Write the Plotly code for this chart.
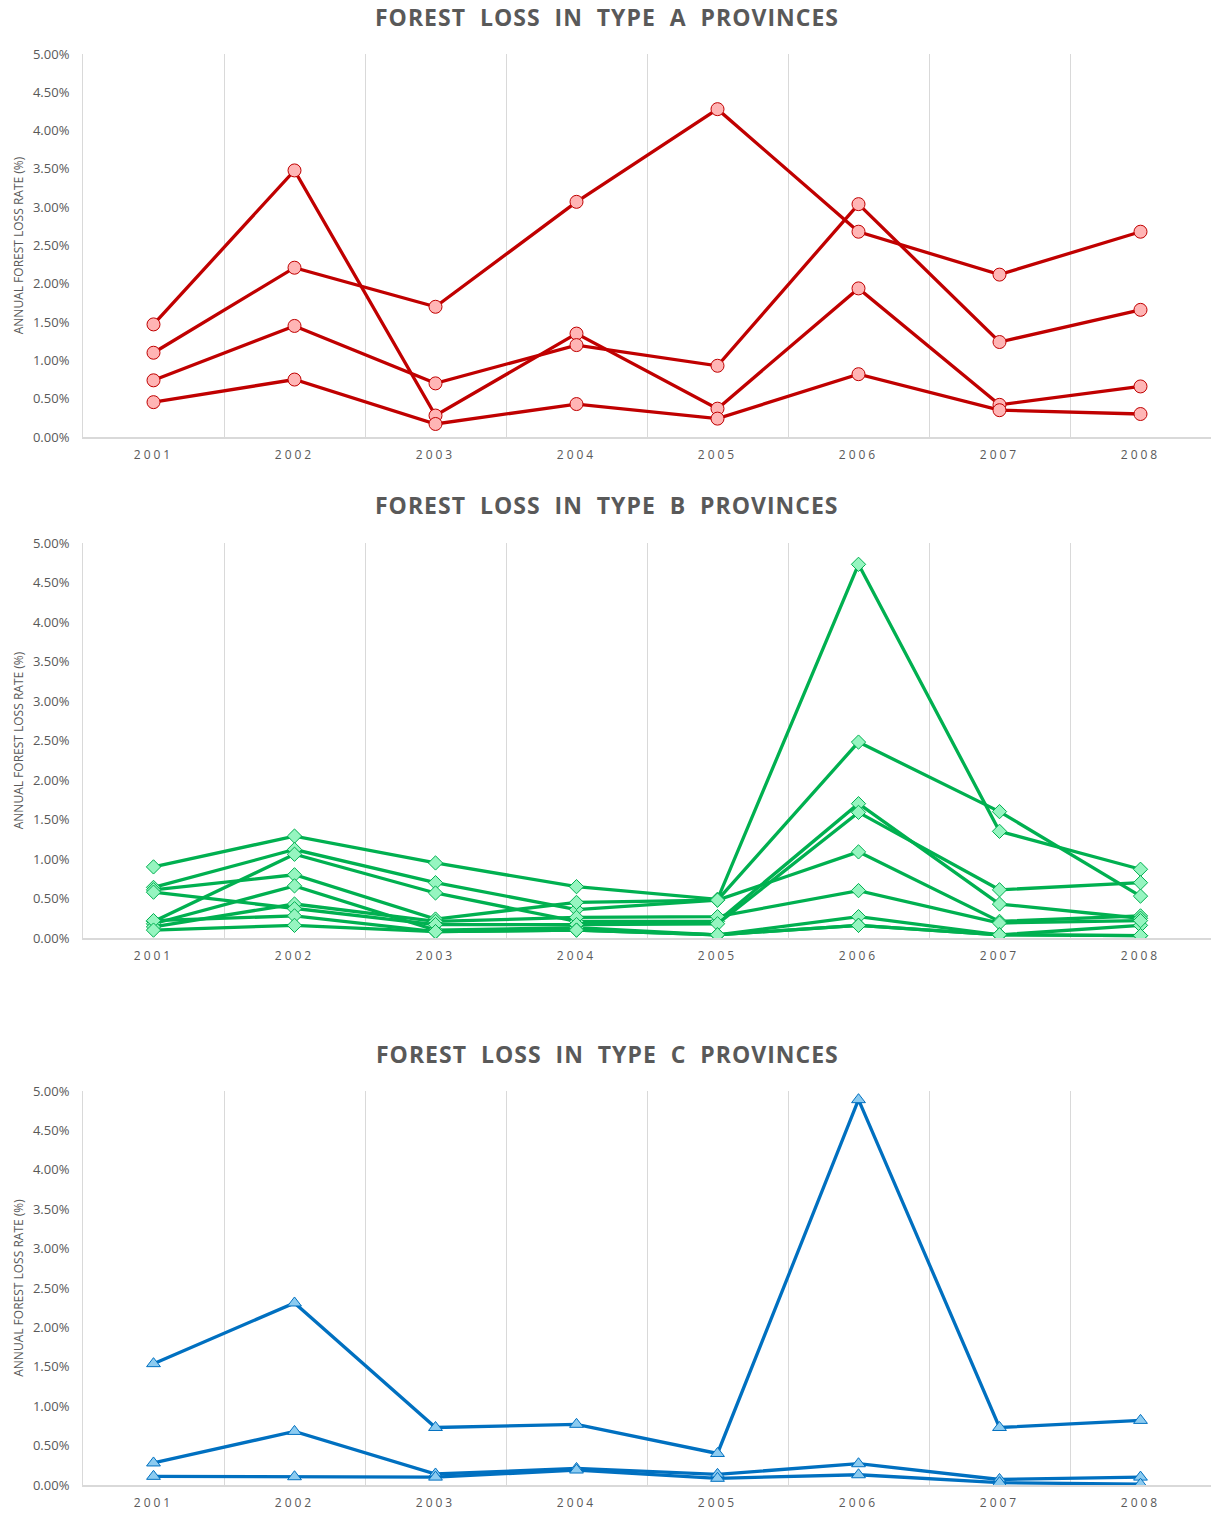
import plotly.graph_objects as go

# ---------------- data (annual forest loss rate, %) ----------------
years = ["2001", "2002", "2003", "2004", "2005", "2006", "2007", "2008"]

type_a_series = [
    [1.47, 3.48, 0.28, 1.35, 0.37, 1.94, 0.42, 0.66],
    [1.10, 2.21, 1.70, 3.07, 4.28, 2.68, 2.12, 2.68],
    [0.74, 1.45, 0.70, 1.20, 0.93, 3.04, 1.24, 1.66],
    [0.455, 0.75, 0.17, 0.43, 0.24, 0.82, 0.35, 0.30],
]

type_b_series = [
    [0.90, 1.29, 0.95, 0.65, 0.49, 4.73, 1.35, 0.87],
    [0.64, 1.12, 0.70, 0.36, 0.48, 1.09, 0.21, 0.28],
    [0.21, 1.06, 0.57, 0.21, 0.21, 1.70, 0.43, 0.25],
    [0.61, 0.80, 0.24, 0.45, 0.48, 2.48, 1.60, 0.53],
    [0.18, 0.66, 0.10, 0.13, 0.04, 0.27, 0.04, 0.16],
    [0.14, 0.43, 0.21, 0.26, 0.27, 0.60, 0.19, 0.22],
    [0.58, 0.37, 0.17, 0.17, 0.18, 1.59, 0.61, 0.70],
    [0.22, 0.28, 0.08, 0.10, 0.04, 0.16, 0.04, 0.03],
    [0.10, 0.16, 0.08, 0.10, 0.04, 0.16, 0.04, 0.03],
]

type_c_series = [
    [1.54, 2.31, 0.73, 0.77, 0.40, 4.89, 0.73, 0.82],
    [0.28, 0.68, 0.14, 0.21, 0.135, 0.27, 0.07, 0.10],
    [0.11, 0.105, 0.10, 0.19, 0.085, 0.13, 0.03, 0.01],
]

y_tick_values = [0.0, 0.005, 0.01, 0.015, 0.02, 0.025, 0.03, 0.035, 0.04, 0.045, 0.05]

titles = [
    "FOREST  LOSS  IN  TYPE  A  PROVINCES",
    "FOREST  LOSS  IN  TYPE  B  PROVINCES",
    "FOREST  LOSS  IN  TYPE  C  PROVINCES",
]
y_title = "ANNUAL FOREST LOSS RATE (%)"

# ---------------- layout geometry (pixel positions of the 1211x1513 page) ----------------
W, H = 1211, 1513
FONT = "Open Sans"
TXT = "#595959"
GRID = "#D9D9D9"


def px_x(px):
    return px / W


def px_y(py):
    return 1 - py / H


panels = [
    dict(series=type_a_series, line="#C00000", fill="#FFB5B5", symbol="circle", size=13,
         top=54, bottom=437, title_y=17),
    dict(series=type_b_series, line="#00B050", fill="#96F5C0", symbol="diamond", size=11,
         top=543, bottom=938, title_y=505),
    dict(series=type_c_series, line="#0070C0", fill="#8CCBF0", symbol="triangle-up", size=12,
         top=1091, bottom=1485, title_y=1054),
]

fig = go.Figure()
layout = dict(
    width=W, height=H, autosize=False,
    margin=dict(l=0, r=0, t=0, b=0, pad=0),
    paper_bgcolor="white", plot_bgcolor="white",
    showlegend=False,
    font=dict(family=FONT, color=TXT),
    annotations=[],
)

x_labels = ['<span style="letter-spacing:3px">%s</span>' % y for y in years]

plot_left = 83
cat_w = 141.0
x_range_right = (W - plot_left) / cat_w - 0.5

for i, p in enumerate(panels):
    n = "" if i == 0 else str(i + 1)
    xa, ya = "x" + n, "y" + n
    for s in p["series"]:
        fig.add_trace(go.Scatter(
            x=years, y=[v / 100.0 for v in s],
            xaxis=xa, yaxis=ya,
            mode="lines+markers",
            line=dict(color=p["line"], width=3.3),
            marker=dict(symbol=p["symbol"], size=p["size"], color=p["fill"],
                        line=dict(color=p["line"], width=1)),
            hoverinfo="x+y",
        ))
    layout["xaxis" + n] = dict(
        domain=[px_x(plot_left), 1.0],
        anchor=ya,
        automargin=False,
        type="category",
        categoryorder="array", categoryarray=years,
        range=[-0.5, x_range_right],
        tickmode="array", tickvals=years, ticktext=x_labels,
        tickson="boundaries",
        ticks="",
        showgrid=True, gridcolor=GRID, gridwidth=1,
        showline=True, linecolor=GRID, linewidth=2,
        zeroline=False,
        tickfont=dict(family=FONT, size=12, color=TXT),
        ticklabelstandoff=6,
        fixedrange=True,
    )
    layout["yaxis" + n] = dict(
        domain=[px_y(p["bottom"]), px_y(p["top"])],
        anchor=xa,
        automargin=False,
        range=[0, 0.05],
        tickmode="array", tickvals=y_tick_values,
        tickformat=".2%",
        showgrid=False, zeroline=False,
        showline=True, linecolor=GRID, linewidth=1,
        ticks="",
        tickfont=dict(family=FONT, size=13, color=TXT),
        ticklabelstandoff=10,
        title=dict(text=y_title, font=dict(family=FONT, size=12, color=TXT), standoff=6),
        fixedrange=True,
    )
    layout["annotations"].append(dict(
        text='<span style="letter-spacing:1px">%s</span>' % titles[i],
        xref="paper", yref="paper", x=px_x(607), y=px_y(p["title_y"]),
        xanchor="center", yanchor="middle", showarrow=False,
        font=dict(family=FONT, size=23, color=TXT, weight="bold"),
    ))

fig.update_layout(**layout)
fig.write_html("out.html", config={"displayModeBar": False},
               post_script="document.body.style.margin='0';")
